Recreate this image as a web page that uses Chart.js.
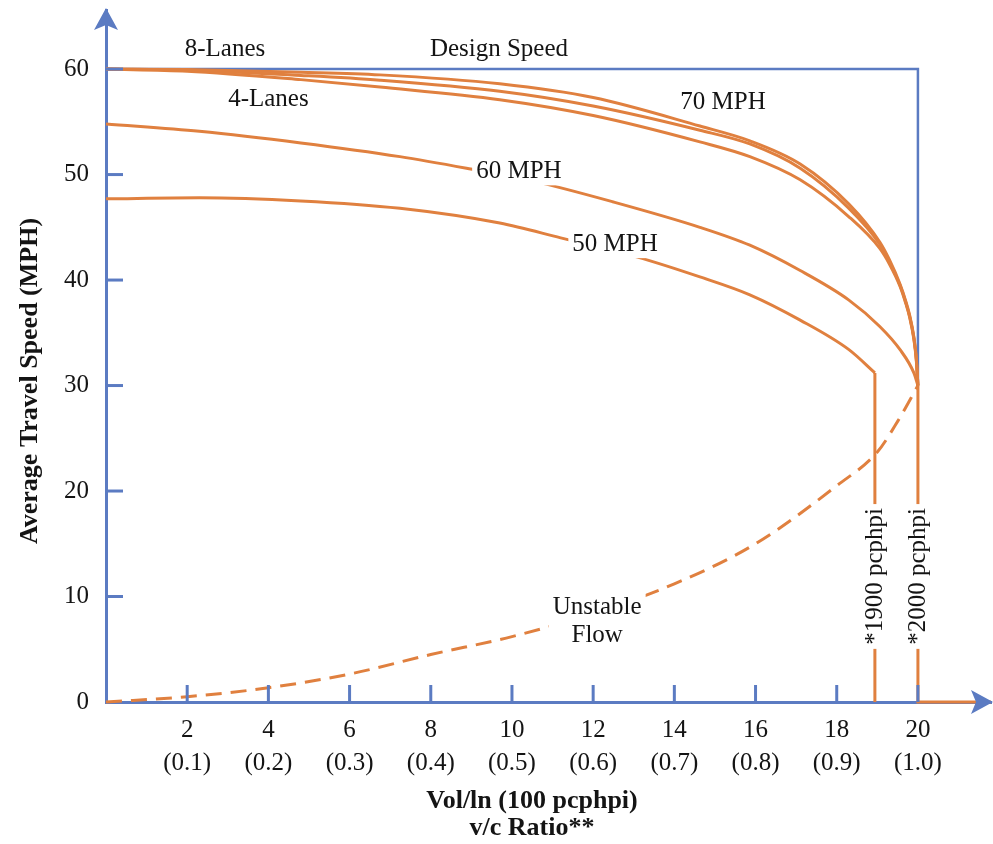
<!DOCTYPE html>
<html>
<head>
<meta charset="utf-8">
<script src="https://cdn.jsdelivr.net/npm/chart.js@4"></script>
<style>
  body { margin: 0; background: #fff; }
  #wrap { width: 993px; height: 844px; position: relative; }
</style>
</head>
<body>
<div id="wrap"><canvas id="speed-chart"></canvas></div>
<script>
// --- data ---
// x = volume per lane (100 pcphpi), y = average travel speed (MPH)
const x70 = [0, 2, 4.8, 6.75, 9.7, 12, 14.63, 15.86, 17.1, 18.3, 19.06, 19.3, 19.56, 19.7, 19.8, 19.9, 19.96, 20];
const speed8Lanes = [60, 59.95, 59.7, 59.45, 58.6, 57.3, 54.6, 53.2, 51.0, 47.2, 43.6, 41.9, 39.6, 38.0, 36.6, 34.6, 32.6, 30];
const speed6Lanes = [60, 59.9, 59.4, 58.95, 57.9, 56.5, 54.2, 52.9, 50.6, 46.8, 43.4, 41.7, 39.5, 37.9, 36.5, 34.5, 32.5, 30];
const speed4Lanes = [60, 59.8, 59.0, 58.3, 57.1, 55.6, 53.1, 51.7, 49.5, 46.0, 43.0, 41.5, 39.4, 37.8, 36.4, 34.4, 32.4, 30];

const x60 = [0, 2.3, 4.8, 7.24, 8.88, 10.5, 12.5, 14.63, 15.86, 17.1, 18.3, 19.06, 19.56, 19.9, 20];
const speed60 = [54.8, 54.1, 53.0, 51.7, 50.6, 49.4, 47.4, 45.0, 43.3, 40.9, 38.1, 35.6, 33.4, 31.2, 30];

const x50 = [0, 2.3, 4.8, 7.24, 9.7, 11.2, 13.07, 14.63, 15.86, 17.1, 18.3, 18.94];
const speed50 = [47.7, 47.8, 47.5, 46.8, 45.4, 44.0, 42.2, 40.3, 38.6, 36.2, 33.4, 31.2];

const xUnstable = [0, 2, 4, 6, 8, 10, 12, 14, 16, 18, 19, 19.5, 20];
const speedUnstable = [0, 0.5, 1.35, 2.65, 4.5, 6.2, 8.4, 11.2, 15.0, 20.5, 23.7, 26.6, 30];

const xCap1900 = [18.94, 18.94];
const speedCap1900 = [31.2, 0];
const xCap2000 = [20, 20, 21.8];
const speedCap2000 = [30, 0, 0];

const xDesign = [0, 20, 20];
const speedDesign = [60, 60, 30];

const xTickValues = [2, 4, 6, 8, 10, 12, 14, 16, 18, 20];
const vcRatioLabels = ['(0.1)', '(0.2)', '(0.3)', '(0.4)', '(0.5)', '(0.6)', '(0.7)', '(0.8)', '(0.9)', '(1.0)'];
const yTickValues = [0, 10, 20, 30, 40, 50, 60];

// text notes placed in data units
const notes = [
    { text: ['8-Lanes'], x: 2.93, y: 62.0 },
    { text: ['Design Speed'], x: 9.68, y: 62.0 },
    { text: ['4-Lanes'], x: 4.0, y: 57.2 },
    { text: ['70 MPH'], x: 15.2, y: 56.9 },
    { text: ['60 MPH'], x: 10.17, y: 50.4, mask: true },
    { text: ['50 MPH'], x: 12.54, y: 43.5, mask: true },
    { text: ['Unstable', 'Flow'], x: 12.1, y: 7.7, mask: true },
    { text: ['*1900 pcphpi'], x: 18.94, y: 11.9, mask: true, rotate: true },
    { text: ['*2000 pcphpi'], x: 20, y: 11.9, mask: true, rotate: true }
];

const orange = '#E0803F';
const blue = '#5B7BC2';
const ink = '#141414';
const serif = '"Liberation Serif", "Times New Roman", serif';

function zip(xs, ys) {
    return xs.map((x, i) => ({ x: x, y: ys[i] }));
}

function curve(xs, ys, extra) {
    return Object.assign({
        data: zip(xs, ys),
        borderColor: orange,
        borderWidth: 3,
        pointRadius: 0,
        cubicInterpolationMode: 'monotone',
        fill: false,
        clip: false
    }, extra || {});
}

// inward ticks, arrowheads, notes and axis titles
const decorations = {
    id: 'decorations',
    afterDatasetsDraw(chart) {
        const ctx = chart.ctx;
        const xs = chart.scales.x, ys = chart.scales.y;
        notes.forEach(n => {
            const px = xs.getPixelForValue(n.x);
            const py = ys.getPixelForValue(n.y);
            ctx.save();
            ctx.translate(px, py);
            if (n.rotate) ctx.rotate(-Math.PI / 2);
            ctx.font = '25px ' + serif;
            const lh = 28;
            const w = Math.max(...n.text.map(t => ctx.measureText(t).width));
            const h = lh * n.text.length;
            if (n.mask) {
                ctx.fillStyle = '#fff';
                ctx.fillRect(-w / 2 - 4, -h / 2 - 1, w + 8, h + 2);
            }
            ctx.fillStyle = ink;
            ctx.textAlign = 'center';
            ctx.textBaseline = 'middle';
            n.text.forEach((t, i) => {
                ctx.fillText(t, 0, -h / 2 + lh / 2 + i * lh + 1);
            });
            ctx.restore();
        });
    },
    afterDraw(chart) {
        const ctx = chart.ctx;
        const area = chart.chartArea;
        const xs = chart.scales.x, ys = chart.scales.y;
        ctx.save();
        ctx.strokeStyle = blue;
        ctx.fillStyle = blue;
        ctx.lineWidth = 3;
        // ticks pointing into the plot
        xTickValues.forEach(v => {
            const px = xs.getPixelForValue(v);
            ctx.beginPath();
            ctx.moveTo(px, area.bottom);
            ctx.lineTo(px, area.bottom - 17);
            ctx.stroke();
        });
        yTickValues.slice(1).forEach(v => {
            const py = ys.getPixelForValue(v);
            ctx.beginPath();
            ctx.moveTo(area.left, py);
            ctx.lineTo(area.left + 17, py);
            ctx.stroke();
        });
        // arrowheads
        const tx = area.left, ty = area.top - 2;
        ctx.beginPath();
        ctx.moveTo(tx, ty);
        ctx.lineTo(tx + 12, ty + 22);
        ctx.lineTo(tx, ty + 17);
        ctx.lineTo(tx - 12, ty + 22);
        ctx.closePath();
        ctx.fill();
        const ax = area.right + 2, ay = area.bottom;
        ctx.beginPath();
        ctx.moveTo(ax, ay);
        ctx.lineTo(ax - 22, ay - 12);
        ctx.lineTo(ax - 17, ay);
        ctx.lineTo(ax - 22, ay + 12);
        ctx.closePath();
        ctx.fill();

        // axis titles
        ctx.fillStyle = ink;
        ctx.font = 'bold 26px ' + serif;
        ctx.textAlign = 'center';
        ctx.textBaseline = 'middle';
        ctx.fillText('Vol/ln (100 pcphpi)', 532, 801);
        ctx.fillText('v/c Ratio**', 532, 828);
        ctx.translate(30, 381);
        ctx.rotate(-Math.PI / 2);
        ctx.fillText('Average Travel Speed (MPH)', 0, 0);
        ctx.restore();
    }
};

const config = {
    type: 'line',
    data: {
        datasets: [
            curve(x70, speed8Lanes),
            curve(x70, speed6Lanes),
            curve(x70, speed4Lanes),
            curve(x60, speed60),
            curve(x50, speed50),
            curve(xCap1900, speedCap1900, { cubicInterpolationMode: 'default', tension: 0 }),
            curve(xCap2000, speedCap2000, { cubicInterpolationMode: 'default', tension: 0 }),
            curve(xUnstable, speedUnstable, { borderDash: [16, 9] }),
            curve(xDesign, speedDesign, { borderColor: blue, borderWidth: 2.5, cubicInterpolationMode: 'default', tension: 0 })
        ]
    },
    options: {
        responsive: true,
        maintainAspectRatio: false,
        animation: false,
        layout: { padding: { top: 10, right: 2, left: 0, bottom: 0 } },
        plugins: {
            legend: { display: false },
            tooltip: { enabled: false }
        },
        scales: {
            x: {
                type: 'linear',
                min: 0,
                max: 21.8,
                grid: { display: false },
                border: { display: true, color: blue, width: 3 },
                ticks: {
                    color: ink,
                    font: { family: serif, size: 25, lineHeight: 1.32 },
                    padding: 4,
                    maxRotation: 0,
                    autoSkip: false,
                    callback: (value, index) => [String(xTickValues[index]), vcRatioLabels[index]]
                },
                afterBuildTicks: scale => { scale.ticks = xTickValues.map(v => ({ value: v })); },
                afterFit: scale => {
                    scale.height = 142;
                    scale.paddingLeft = 0;
                    scale.paddingRight = 0;
                }
            },
            y: {
                type: 'linear',
                min: 0,
                max: 65.6,
                grid: { display: false },
                border: { display: true, color: blue, width: 3 },
                ticks: {
                    color: ink,
                    font: { family: serif, size: 25 },
                    padding: 9,
                    autoSkip: false
                },
                afterBuildTicks: scale => { scale.ticks = yTickValues.map(v => ({ value: v })); },
                afterFit: scale => {
                    scale.width = 106;
                    scale.paddingTop = 0;
                    scale.paddingBottom = 0;
                }
            }
        }
    },
    plugins: [decorations]
};

new Chart(document.getElementById('speed-chart'), config);
</script>
</body>
</html>
